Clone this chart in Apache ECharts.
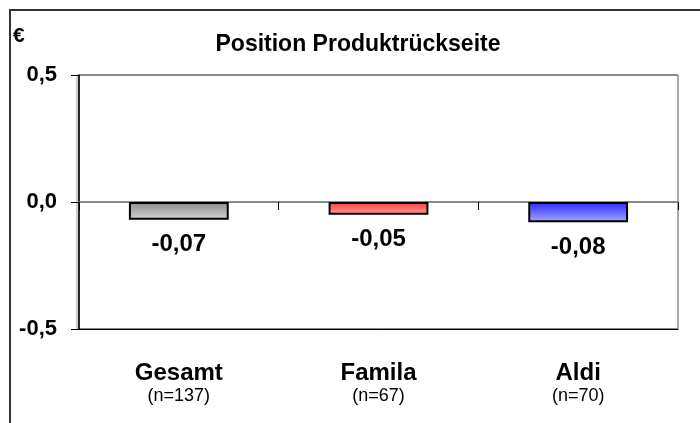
<!DOCTYPE html>
<html>
<head>
<meta charset="utf-8">
<script src="https://cdn.jsdelivr.net/npm/echarts@6/dist/echarts.min.js"></script>
<style>
    html, body { margin: 0; padding: 0; background: #fff; }
    #chart { width: 700px; height: 423px; }
</style>
</head>
<body>
<div id="chart"></div>
<script>
// Werte aus dem Bild
var categories = ['Gesamt', 'Famila', 'Aldi'];
var sampleSizes = [137, 67, 70];
var values = [-0.07, -0.05, -0.08];

var FONT = "'Liberation Sans', Arial, sans-serif";
var barColors = [
    ['#8c8c8c', '#d4d4d4'],
    ['#ff3a3a', '#ffa0a0'],
    ['#2a2aff', '#a8a8ff']
];

function fmt(v) {
    return v.toFixed(v === 0 || Math.abs(v) >= 0.5 ? 1 : 2).replace('.', ',');
}

var myChart = echarts.init(document.getElementById('chart'));
var option = {
    animation: false,
    textStyle: { fontFamily: FONT },
    grid: {
        left: 79, top: 75, right: 22, bottom: 94,
        show: true,
        borderColor: '#555',
        borderWidth: 1
    },
    graphic: [
        {
            type: 'rect',
            shape: { x: 10, y: 10, width: 720, height: 440 },
            style: { fill: 'none', stroke: '#333', lineWidth: 2 },
            silent: true
        },
        {
            type: 'text',
            left: 13, top: 26,
            style: { text: '€', font: 'bold 21px ' + FONT, fill: '#000' }
        },
        {
            type: 'text',
            x: 358, y: 45,
            style: {
                text: 'Position Produktrückseite',
                font: 'bold 23px ' + FONT,
                fill: '#000',
                textAlign: 'center',
                textVerticalAlign: 'middle'
            }
        }
    ],
    xAxis: [
        {
            type: 'category',
            data: categories,
            position: 'bottom',
            axisLine: { onZero: false, lineStyle: { color: '#000', width: 1 } },
            axisTick: { show: false },
            axisLabel: {
                margin: 32,
                interval: 0,
                formatter: function (value, idx) {
                    return '{a|' + value + '}\n{b|(n=' + sampleSizes[idx] + ')}';
                },
                rich: {
                    a: { fontFamily: FONT, fontSize: 24, fontWeight: 'bold', color: '#000', lineHeight: 24 },
                    b: { fontFamily: FONT, fontSize: 18, color: '#000', lineHeight: 22 }
                }
            }
        },
        {
            type: 'category',
            data: categories,
            position: 'bottom',
            axisLine: { onZero: true, lineStyle: { color: '#808080', width: 1.5 } },
            axisTick: { show: true, length: 8, lineStyle: { color: '#000' } },
            axisLabel: { show: false }
        }
    ],
    yAxis: {
        type: 'value',
        min: -0.5,
        max: 0.5,
        interval: 0.5,
        axisLine: {
            show: true,
            lineStyle: { color: '#000', width: 1.5, shadowColor: '#bbb', shadowOffsetX: -2 }
        },
        axisTick: { show: true, length: 8, lineStyle: { color: '#000' } },
        splitLine: { show: true, lineStyle: { color: '#808080', width: 1.5 } },
        axisLabel: {
            margin: 22,
            fontFamily: FONT,
            fontSize: 22,
            fontWeight: 'bold',
            color: '#000',
            formatter: function (v) { return fmt(v); }
        }
    },
    series: [
        {
            type: 'bar',
            xAxisIndex: 0,
            barWidth: '50%',
            data: values.map(function (v, i) {
                return {
                    value: v,
                    itemStyle: {
                        color: new echarts.graphic.LinearGradient(0, 0, 0, 1, [
                            { offset: 0, color: barColors[i][0] },
                            { offset: 1, color: barColors[i][1] }
                        ])
                    }
                };
            }),
            itemStyle: { borderColor: '#000', borderWidth: 2 },
            label: {
                show: true,
                position: 'bottom',
                distance: 13,
                fontFamily: FONT,
                fontSize: 24,
                fontWeight: 'bold',
                color: '#000',
                formatter: function (p) { return fmt(p.value); }
            }
        }
    ]
};
myChart.setOption(option);
window.addEventListener('resize', function () {
    myChart.resize();
});
</script>
</body>
</html>
